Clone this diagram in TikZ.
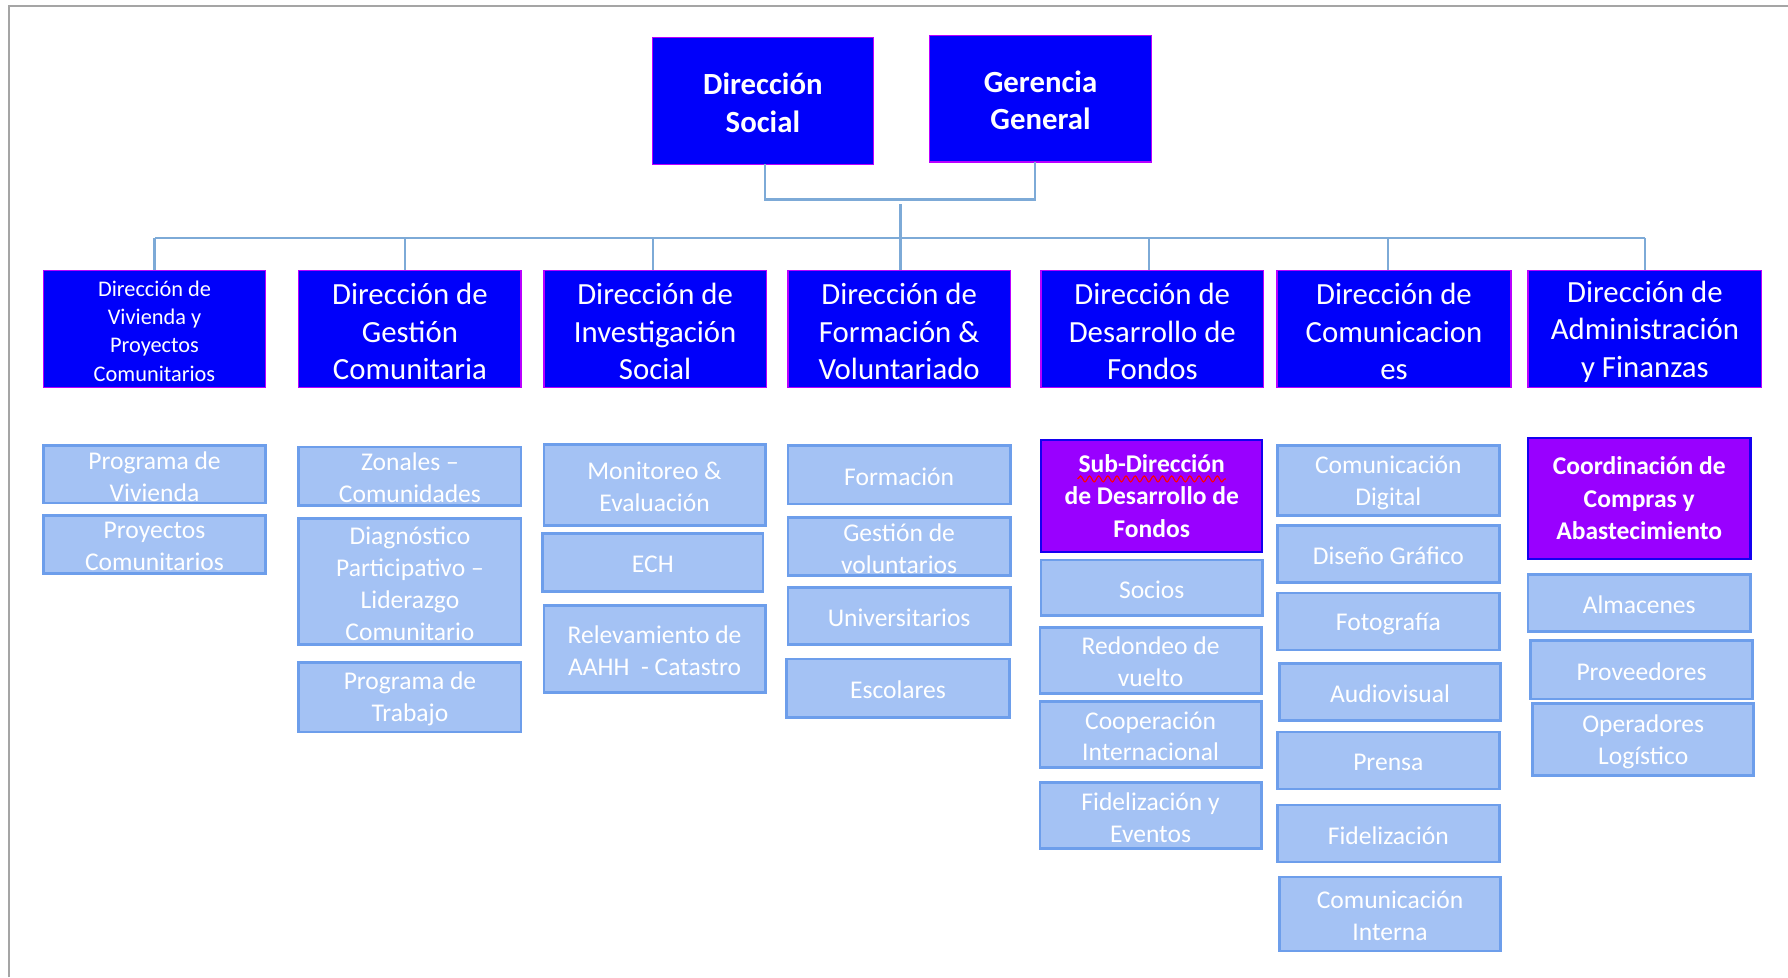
\documentclass[tikz,border=0pt]{standalone}
\usepackage{fontspec}
\setmainfont{Carlito}
\usetikzlibrary{fit,decorations.pathmorphing}

\definecolor{dirblue}{RGB}{0,0,250}
\definecolor{diredge}{RGB}{185,0,255}
\definecolor{subpurple}{RGB}{153,0,255}
\definecolor{subedge}{RGB}{20,0,240}
\definecolor{unitfill}{RGB}{164,194,244}
\definecolor{unitedge}{RGB}{109,158,235}
\definecolor{linkblue}{RGB}{125,170,215}
\definecolor{framegray}{RGB}{165,165,165}

% box given by its two corners: name, x1, y1, x2, y2, style, text
% the label is set in a second node, lowered by the style's tshift
\newcommand\orgbox[7]{%
  \node[#6,fit={(#2,#3) (#4,#5)}] (#1) {};
  \node[#6, draw=none, fill=none, yshift=-\orgtshift] at (#1.center) {#7};}

\tikzset{
  tshift/.store in=\orgtshift, tshift=0pt,
  base/.style={inner sep=0pt, outer sep=0pt, align=center, text=white},
  head/.style={base, fill=dirblue, draw=diredge, line width=0.6pt, tshift=0.8pt,
    font=\fontsize{13.5}{16.5}\selectfont\bfseries},
  dept/.style={base, fill=dirblue, draw=diredge, line width=0.6pt, tshift=1.2pt,
    font=\fontsize{13.5}{16.5}\selectfont},
  deptsmall/.style={dept, tshift=1pt, font=\fontsize{9.8}{12.3}\selectfont},
  sub/.style={base, fill=subpurple, draw=subedge, line width=1pt, tshift=0pt,
    font=\fontsize{11.2}{14.2}\selectfont\bfseries},
  unit/.style={base, fill=unitfill, draw=unitedge, line width=1.2pt, tshift=0.85pt,
    font=\fontsize{11.2}{14}\selectfont},
  link/.style={draw=linkblue, line width=1pt},
  frameline/.style={draw=framegray, line width=0.7pt}
}

\begin{document}
\begin{tikzpicture}[x=0.5pt,y=-0.5pt]
\useasboundingbox (0,0) rectangle (1568,857);
\fill[white] (0,0) rectangle (1568,857);
\draw[frameline] (8,857) -- (8,5) -- (1568,5);

% top level
\orgbox{ds}{572}{33}{766}{144}{head}{Dirección\\Social}
\orgbox{gg}{815}{31}{1010}{142}{head}{Gerencia\\General}

% directions
\orgbox{b1}{38}{237}{233}{340}{deptsmall}{Dirección de\\Vivienda y\\Proyectos\\Comunitarios}
\orgbox{b2}{262}{237}{457}{340}{dept}{Dirección de\\Gestión\\Comunitaria}
\orgbox{b3}{477}{237}{672}{340}{dept}{Dirección de\\Investigación\\Social}
\orgbox{b4}{691}{237}{886}{340}{dept}{Dirección de\\Formación \&\\Voluntariado}
\orgbox{b5}{913}{237}{1108}{340}{dept}{Dirección de\\Desarrollo de\\Fondos}
\orgbox{b6}{1120}{237}{1325}{340}{dept}{Dirección de\\Comunicacion\\es}
\orgbox{b7}{1340}{237}{1545}{340}{dept}{Dirección de\\Administración\\y Finanzas}

% Vivienda y Proyectos
\orgbox{v1}{38}{391}{233}{441}{unit}{Programa de\\Vivienda}
\orgbox{v2}{38}{452}{233}{503}{unit}{Proyectos\\Comunitarios}

% Gestión Comunitaria
\orgbox{g1}{262}{392}{457}{443}{unit}{Zonales –\\Comunidades}
\orgbox{g2}{262}{455}{457}{565}{unit}{Diagnóstico\\Participativo –\\Liderazgo\\Comunitario}
\orgbox{g3}{262}{581}{457}{642}{unit}{Programa de\\Trabajo}

% Investigación Social
\orgbox{i1}{477}{390}{671}{461}{unit}{Monitoreo \&\\Evaluación}
\orgbox{i2}{476}{468}{669}{519}{unit}{ECH}
\orgbox{i3}{477}{531}{671}{607}{unit}{Relevamiento de\\AAHH\ \ - Catastro}

% Formación y Voluntariado
\orgbox{f1}{691}{391}{886}{442}{unit}{Formación}
\orgbox{f2}{691}{454}{886}{505}{unit}{Gestión de\\voluntarios}
\orgbox{f3}{691}{515}{886}{565}{unit}{Universitarios}
\orgbox{f4}{690}{578}{885}{629}{unit}{Escolares}

% Desarrollo de Fondos
\orgbox{d0}{913}{386}{1107}{484}{sub}{Sub-Dirección\\de Desarrollo de\\Fondos}
\orgbox{d1}{913}{491}{1107}{540}{unit}{Socios}
\orgbox{d2}{912}{550}{1106}{608}{unit}{Redondeo de\\vuelto}
\orgbox{d3}{912}{615}{1106}{673}{unit}{Cooperación\\Internacional}
\orgbox{d4}{912}{686}{1106}{744}{unit}{Fidelización y\\Eventos}
\draw[red, line width=0.5pt, decorate,
  decoration={snake, amplitude=1.3, segment length=4}] (945,420) -- (1075,420);

% Comunicaciones
\orgbox{c1}{1120}{391}{1315}{452}{unit}{Comunicación\\Digital}
\orgbox{c2}{1120}{461}{1315}{511}{unit}{Diseño Gráfico}
\orgbox{c3}{1120}{520}{1315}{570}{unit}{Fotografía}
\orgbox{c4}{1122}{582}{1316}{632}{unit}{Audiovisual}
\orgbox{c5}{1120}{642}{1315}{692}{unit}{Prensa}
\orgbox{c6}{1120}{706}{1315}{756}{unit}{Fidelización}
\orgbox{c7}{1122}{769}{1316}{834}{unit}{Comunicación\\Interna}

% Administración y Finanzas
\orgbox{a0}{1340}{384}{1535}{490}{sub}{Coordinación de\\Compras y\\Abastecimiento}
\orgbox{a1}{1340}{504}{1535}{554}{unit}{Almacenes}
\orgbox{a2}{1342}{562}{1537}{613}{unit}{Proveedores}
\orgbox{a3}{1344}{617}{1538}{680}{unit}{Operadores\\Logístico}

% connectors
\coordinate (topjoin) at (789.6,175);
\coordinate (trunk) at (789.6,179);
\coordinate (busL) at (136,209);
\coordinate (busR) at (1443,209);
\draw[link] ([xshift=1pt]ds.south) |- (topjoin) -| ([xshift=-2.5pt]gg.south);
\draw[link] (trunk) -- (trunk |- b4.north);
\draw[link] (busL) -- (busR);
\foreach \n/\dx in {b1/0pt,b2/-2.3pt,b3/-1pt,b5/-1.5pt,b6/-2.7pt,b7/0pt}
  \draw[link] ([xshift=\dx]\n.north) -- ([xshift=\dx]\n.north |- busL);
\end{tikzpicture}
\end{document}
